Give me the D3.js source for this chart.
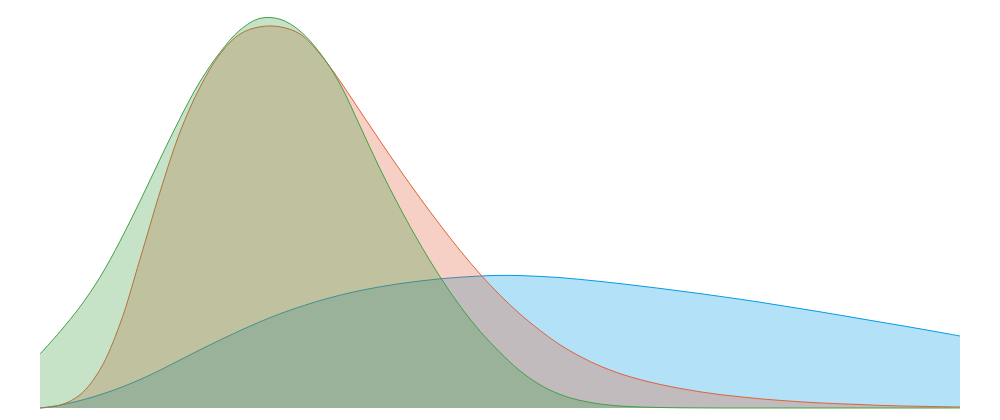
<!DOCTYPE html>
<html>
<head>
<meta charset="utf-8">
<script src="https://cdn.jsdelivr.net/npm/d3@7"></script>
<style>
  body { margin: 0; background: #fff; }
  svg { display: block; }
</style>
</head>
<body>
<svg width="1000" height="420"></svg>
<script>
// sample positions along the x axis
var xValues = [0, 1, 2, 3, 4, 5, 6, 7, 8, 9, 10, 11, 12, 13, 14, 15, 16, 17, 18, 19, 20, 21, 22,
    23, 24, 25, 26, 27, 28, 29, 30, 31, 32, 33, 34, 35, 36, 37, 38, 39, 40, 41, 42, 43, 44, 45, 46];

var blueValues = [0, 0.7, 1.85, 3.3, 5.05, 7.1, 9.45, 12, 14.55, 17, 19.35, 21.55, 23.55, 25.3, 26.85,
    28.2, 29.35, 30.3, 31.1, 31.75, 32.3, 32.7, 33, 33.15, 33.1, 32.9, 32.6, 32.15, 31.65, 31.1, 30.5,
    29.9, 29.25, 28.6, 27.9, 27.2, 26.45, 25.65, 24.85, 24.05, 23.2, 22.35, 21.5, 20.65, 19.8, 18.9, 18];

var orangeValues = [0, 0.7, 3.3, 9.6, 21, 37.2, 54, 69, 80.2, 88.5, 93.5, 95.3, 95.3, 93.5, 88.5,
    81.75, 74.25, 66.8, 59.5, 52.5, 45.8, 39.4, 33.5, 28.2, 23.5, 19.4, 15.8, 12.9, 10.5, 8.6, 7.1,
    5.9, 4.9, 4.05, 3.35, 2.8, 2.3, 1.9, 1.55, 1.28, 1.05, 0.87, 0.65, 0.52, 0.42, 0.33, 0.26];

var greenValues = [13.5, 19.1, 25.3, 32.7, 41.7, 51.7, 62.2, 72.4, 81.6, 88.9, 94.5, 97.4, 97.2, 94.25,
    88.75, 81, 70.5, 59.8, 50, 41, 32.8, 25.5, 19.2, 13.9, 9.3, 5.8, 3.4, 1.9, 1, 0.5, 0.25, 0.12,
    0.05, 0.02, 0, 0, 0, 0, 0, 0, 0, 0, 0, 0, 0, 0, 0];

var series = [
    {name: "blue", values: blueValues, color: "#039be5"},
    {name: "orange", values: orangeValues, color: "#e0623a"},
    {name: "green", values: greenValues, color: "#43a047"}
];

var svg = d3.select("svg"),
    x = d3.scaleLinear().domain([0, 46]).range([40, 960]),
    y = d3.scaleLinear().domain([0, 100]).range([408, 8]);

var area = d3.area()
    .curve(d3.curveCatmullRom)
    .x(function(d, i) { return x(xValues[i]); })
    .y0(y(0))
    .y1(function(d) { return y(Math.max(0, d)); });

var line = d3.line()
    .curve(d3.curveCatmullRom)
    .x(function(d, i) { return x(xValues[i]); })
    .y(function(d) { return y(Math.max(0, d)); });

series.forEach(function(s) {
    var g = svg.append("g").attr("class", "series " + s.name);
    g.append("path")
        .datum(s.values)
        .attr("fill", s.color)
        .attr("fill-opacity", 0.3)
        .attr("d", area);
    g.append("path")
        .datum(s.values)
        .attr("fill", "none")
        .attr("stroke", s.color)
        .attr("stroke-width", 1)
        .attr("d", line);
});
</script>
</body>
</html>
